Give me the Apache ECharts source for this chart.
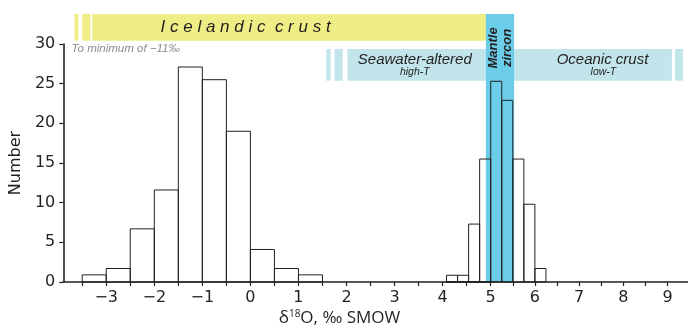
<!DOCTYPE html>
<html>
<head>
<meta charset="utf-8">
<script src="https://cdn.jsdelivr.net/npm/echarts@6/dist/echarts.min.js"></script>
<style>
  html, body { margin: 0; padding: 0; background: #fff; }
  #chart { width: 688px; height: 329px; }
</style>
</head>
<body>
<div id="chart"></div>
<script>
// Icelandic zircon, 0.5 permil bins (left edge of each bin)
const icelandBinStart = [-3.5, -3, -2.5, -2, -1.5, -1, -0.5, 0, 0.5, 1]
const icelandBinWidth = 0.5
const icelandCounts = [0.9, 1.7, 6.7, 11.6, 27.1, 25.5, 19.0, 4.1, 1.7, 0.9]

// mantle zircon, 0.25 permil bins
const mantleBinStart = [4, 4.25, 4.5, 4.75, 5, 5.25, 5.5, 5.75, 6]
const mantleBinWidth = 0.25
const mantleCounts = [0.85, 0.85, 7.3, 15.5, 25.3, 22.9, 15.5, 9.8, 1.7]

// axis ticks / labels (the figure is a composite: two x scales joined at 5)
const leftTicks = [-3.5, -3, -2.5, -2, -1.5, -1, -0.5, 0, 0.5, 1, 1.5, 2, 2.5, 3, 3.5, 4, 4.5]
const leftLabels = [-3, -2, -1, 0, 1, 2, 3, 4]
const rightTicks = [5, 5.5, 6, 6.5, 7, 7.5, 8, 8.5, 9]
const rightLabels = [5, 6, 7, 8, 9]

// reference ranges, δ18O ‰
const icelandicRange = [[-3.66, -3.58], [-3.5, -3.33], [-3.29, 4.9]]
const seawaterRange = [[1.58, 1.67], [1.75, 1.92], [2.02, 4.9]]
const oceanicRange = [[5.53, 9.1], [9.17, 9.35]]
const mantleRange = [[4.89, 5.53]]

const ink = '#231f20'
const chart = echarts.init(document.getElementById('chart'))

function histSeries(idx, starts, width, counts) {
  return {
    type: 'custom', xAxisIndex: idx, yAxisIndex: idx, clip: false, z: 4, silent: true,
    data: starts.map((s, i) => [s, s + width, counts[i]]),
    renderItem: (params, api) => {
      const a = api.coord([api.value(0), 0])
      const b = api.coord([api.value(1), api.value(2)])
      return {
        type: 'rect',
        shape: { x: a[0], y: b[1], width: b[0] - a[0], height: a[1] - b[1] },
        style: { fill: 'transparent', stroke: ink, lineWidth: 1 }
      }
    }
  }
}

function bandSeries(idx, ranges, y0, y1, color, z) {
  return {
    type: 'custom', xAxisIndex: idx, yAxisIndex: idx, clip: false, z, silent: true,
    data: ranges.map(r => [r[0], r[1]]),
    renderItem: (params, api) => {
      const a = api.coord([api.value(0), y0])
      const b = api.coord([api.value(1), y1])
      return {
        type: 'rect',
        shape: { x: a[0], y: b[1], width: b[0] - a[0], height: a[1] - b[1] },
        style: { fill: color }
      }
    }
  }
}

function textSeries(idx, items) {
  return {
    type: 'custom', xAxisIndex: idx, yAxisIndex: idx, clip: false, z: 6, silent: true,
    data: [[0, 0]],
    renderItem: (params, api) => ({
      type: 'group',
      children: items.map(t => {
        const p = api.coord([t.x, t.y])
        return {
          type: 'text', x: p[0], y: p[1], rotation: t.rotate || 0,
          style: {
            text: t.text, fill: t.color || ink, align: t.align || 'center', verticalAlign: 'middle',
            fontFamily: 'Liberation Sans', fontStyle: 'italic', fontWeight: t.bold ? 'bold' : 'normal',
            fontSize: t.size, lineHeight: t.lh || t.size
          }
        }
      })
    })
  }
}

const numLabel = { fontFamily: 'DejaVu Sans', fontSize: 16, color: ink }
const fmt = v => (v < 0 ? '\u2212' + Math.abs(v) : String(v))

function xAxis(idx, min, max, ticks, labels) {
  return {
    type: 'value', gridIndex: idx, min, max, z: 8,
    splitLine: { show: false },
    axisLine: { show: true, onZero: false, lineStyle: { color: ink, width: 1.6 } },
    axisTick: { show: true, length: 4, customValues: ticks, lineStyle: { color: ink, width: 1.2 } },
    axisLabel: { customValues: labels, margin: 8, formatter: fmt, ...numLabel }
  }
}

chart.setOption({
  animation: false,
  grid: [
    { left: 62, top: 44, width: 428.7, bottom: 47 },
    { left: 446.5, top: 44, right: 0, bottom: 47 }
  ],
  xAxis: [
    xAxis(0, -3.894, 5, leftTicks, leftLabels),
    xAxis(1, 4, 9.464, rightTicks, rightLabels)
  ],
  yAxis: [
    {
      type: 'value', gridIndex: 0, min: 0, max: 30, interval: 5, z: 8,
      name: 'Number', nameLocation: 'middle', nameGap: 34,
      nameTextStyle: { fontFamily: 'DejaVu Sans', fontSize: 16, color: ink },
      splitLine: { show: false },
      axisLine: { show: true, onZero: false, lineStyle: { color: ink, width: 1.6 } },
      axisTick: { show: true, length: 4, lineStyle: { color: ink, width: 1.2 } },
      axisLabel: { margin: 8, ...numLabel }
    },
    { type: 'value', gridIndex: 1, min: 0, max: 30, show: false }
  ],
  graphic: [{
    type: 'text', x: 339.5, y: 318,
    style: {
      text: '{n|δ}{s|18}{n|O, ‰ SMOW}', align: 'center', verticalAlign: 'middle',
      rich: {
        n: { fontFamily: 'Open Sans', fontSize: 17, fill: ink, color: ink },
        s: { fontFamily: 'Open Sans', fontSize: 10, fill: ink, color: ink, verticalAlign: 'top' }
      }
    }
  }],
  series: [
    bandSeries(0, icelandicRange, 30.42, 33.78, '#efed85', 1),
    bandSeries(0, seawaterRange, 25.37, 29.37, '#c1e5eb', 1),
    bandSeries(1, oceanicRange, 25.37, 29.37, '#c1e5eb', 1),
    bandSeries(1, mantleRange, 0, 33.78, '#6ccde8', 2),
    histSeries(0, icelandBinStart, icelandBinWidth, icelandCounts),
    histSeries(1, mantleBinStart, mantleBinWidth, mantleCounts),
    textSeries(0, [
      { text: 'I c e l a n d i c  c r u s t', x: -0.1, y: 32.1, size: 17 },
      { text: 'To minimum of \u221211‰', x: -3.72, y: 29.45, size: 11.5, align: 'left', color: '#8c8c8c' },
      { text: 'Seawater-altered', x: 3.42, y: 27.98, size: 15 },
      { text: 'high-T', x: 3.42, y: 26.5, size: 10.5 }
    ]),
    textSeries(1, [
      { text: 'Oceanic crust', x: 7.53, y: 27.98, size: 15 },
      { text: 'low-T', x: 7.55, y: 26.5, size: 10.5 },
      { text: 'Mantle\nzircon', x: 5.21, y: 29.5, size: 13, lh: 14, bold: true, rotate: Math.PI / 2 }
    ])
  ]
})
</script>
</body>
</html>
